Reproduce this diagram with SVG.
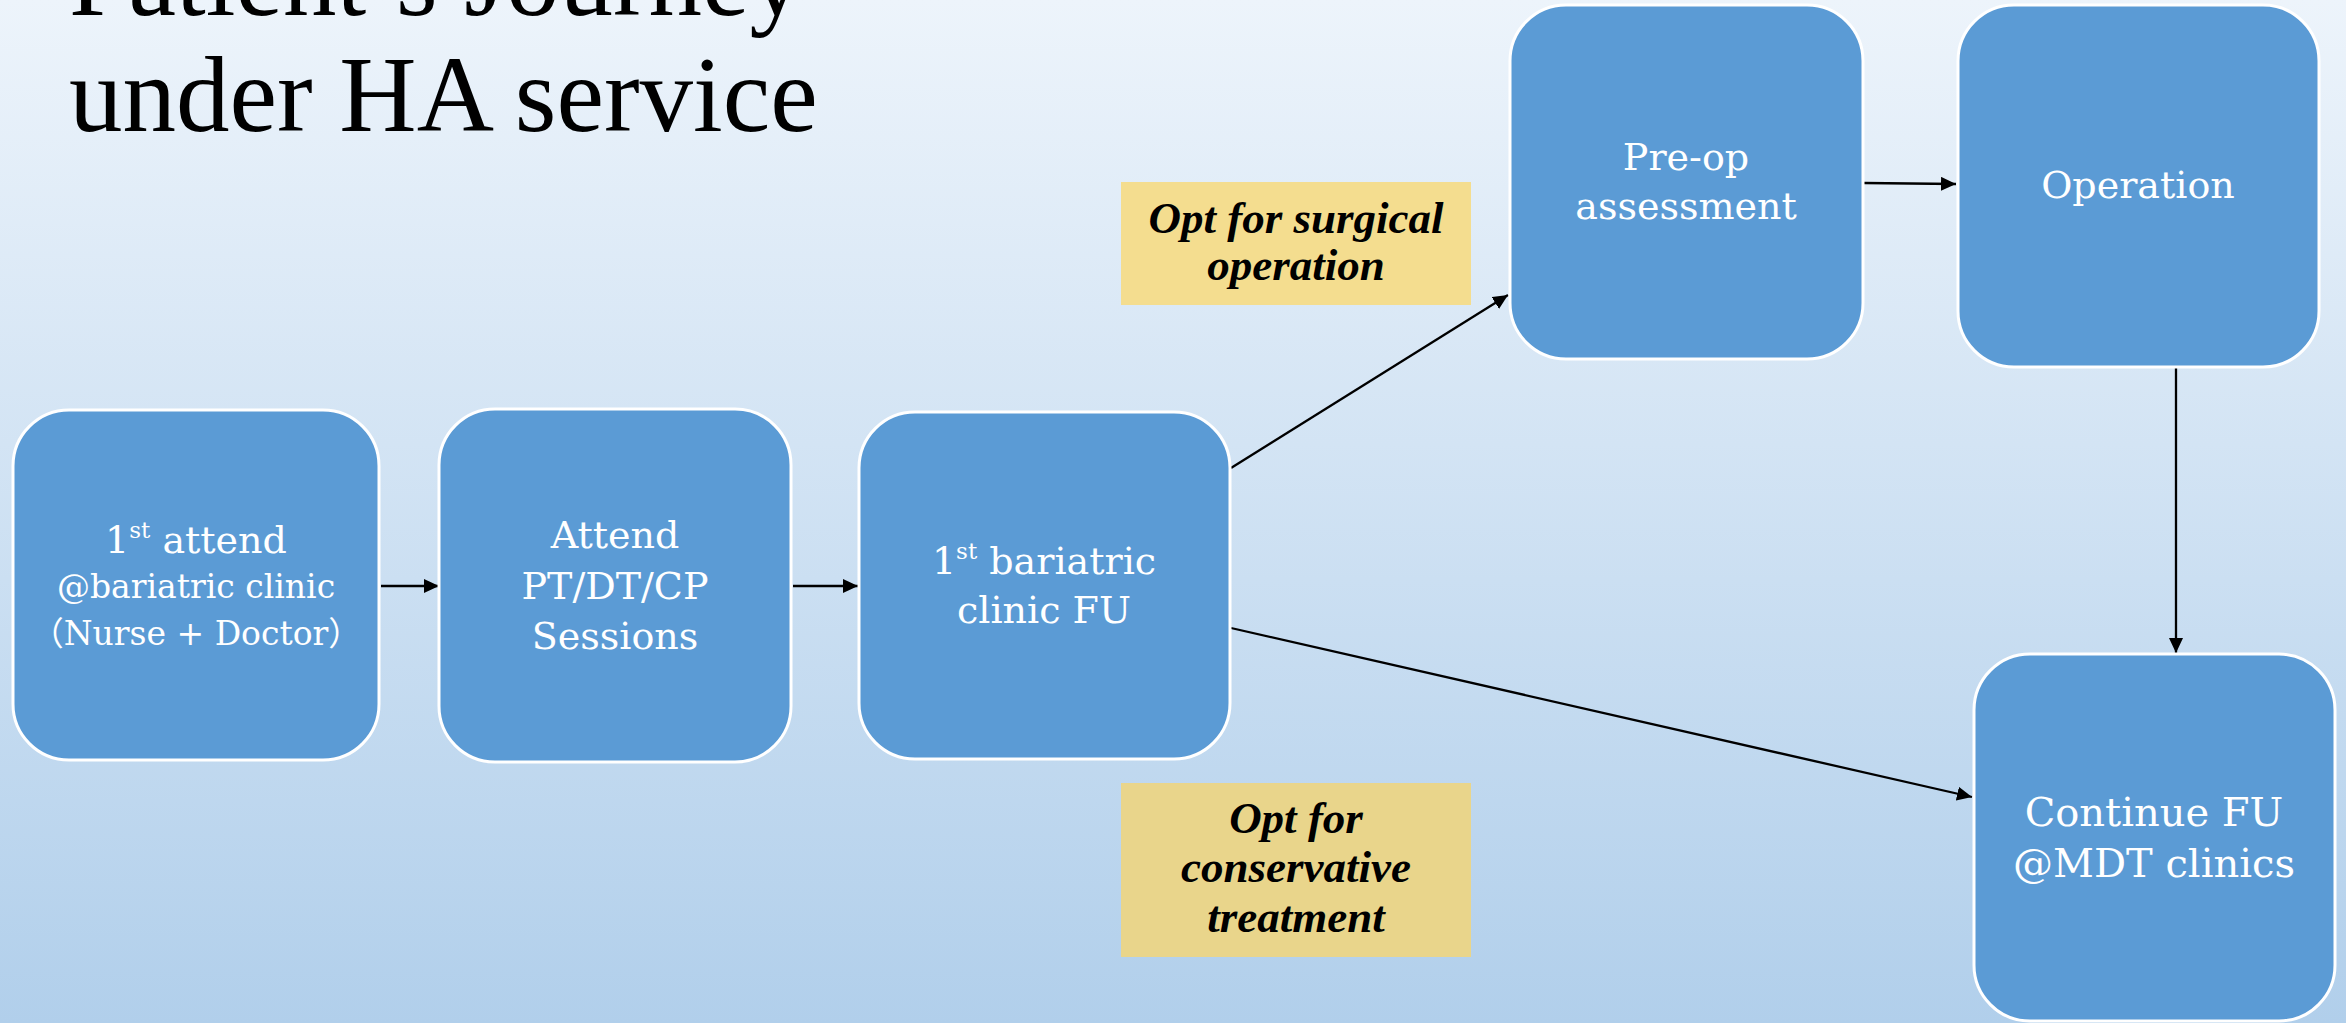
<svg xmlns="http://www.w3.org/2000/svg" width="2346" height="1023" viewBox="0 0 2346 1023">
<defs>
<linearGradient id="bg" x1="0" y1="0" x2="0" y2="1">
<stop offset="0" stop-color="#EDF4FB"/>
<stop offset="1" stop-color="#B1CFEB"/>
</linearGradient>
<marker id="ah" markerUnits="userSpaceOnUse" markerWidth="16" markerHeight="14" refX="15" refY="7" orient="auto">
<path d="M0,0 L15,7 L0,14 z" fill="#000"/>
</marker>
</defs>
<style>
.node{fill:#5B9BD5;stroke:#FFFFFF;stroke-width:3}
.nt{font-family:"DejaVu Serif","Noto Sans CJK SC",serif;fill:#FFFFFF;text-anchor:middle}
.lbl{font-family:"Liberation Serif",serif;font-weight:bold;font-style:italic;font-size:45px;fill:#000;text-anchor:middle}
.con{stroke:#000;stroke-width:2.3;fill:none;marker-end:url(#ah)}
.title{font-family:"Liberation Serif",serif;font-size:107px;fill:#000}
</style>
<rect x="0" y="0" width="2346" height="1023" fill="url(#bg)"/>
<g id="title">
<text class="title" x="69" y="15">Patient’s Journey</text>
<text class="title" x="69" y="131">under HA service</text>
</g>
<g id="connectors">
<line class="con" x1="381" y1="586" x2="439" y2="586"/>
<line class="con" x1="793" y1="586" x2="858" y2="586"/>
<line class="con" x1="1231" y1="468" x2="1508" y2="295"/>
<line class="con" x1="1231" y1="628" x2="1972" y2="797"/>
<line class="con" x1="1864" y1="183" x2="1956" y2="184"/>
<line class="con" x1="2176" y1="368" x2="2176" y2="653"/>
</g>
<g id="node-first-attend">
<rect class="node" x="13" y="410" width="366" height="350" rx="56" ry="56"/>
<text class="nt" x="196" y="553" font-size="38">1<tspan font-size="23" dy="-15">st</tspan><tspan dy="15"> attend</tspan></text>
<text class="nt" x="196" y="598" font-size="33">@bariatric clinic</text>
<text class="nt" x="196" y="645" font-size="33">（Nurse + Doctor）</text>
</g>
<g id="node-sessions">
<rect class="node" x="439" y="409" width="352" height="353" rx="56" ry="56"/>
<text class="nt" x="615" y="548" font-size="38">Attend</text>
<text class="nt" x="615" y="599" font-size="38">PT/DT/CP</text>
<text class="nt" x="615" y="649" font-size="38">Sessions</text>
</g>
<g id="node-bariatric-fu">
<rect class="node" x="859" y="412" width="371" height="347" rx="56" ry="56"/>
<text class="nt" x="1044" y="574" font-size="38">1<tspan font-size="23" dy="-15">st</tspan><tspan dy="15"> bariatric</tspan></text>
<text class="nt" x="1044" y="623" font-size="38">clinic FU</text>
</g>
<g id="node-preop">
<rect class="node" x="1510" y="5" width="353" height="354" rx="56" ry="56"/>
<text class="nt" x="1686" y="170" font-size="38">Pre-op</text>
<text class="nt" x="1686" y="219" font-size="38">assessment</text>
</g>
<g id="node-operation">
<rect class="node" x="1958" y="5" width="361" height="362" rx="56" ry="56"/>
<text class="nt" x="2138" y="198" font-size="38">Operation</text>
</g>
<g id="node-continue">
<rect class="node" x="1974" y="654" width="361" height="367" rx="56" ry="56"/>
<text class="nt" x="2154" y="826" font-size="40">Continue FU</text>
<text class="nt" x="2154" y="877" font-size="40">@MDT clinics</text>
</g>
<g id="label-surgical">
<rect x="1121" y="182" width="350" height="123" fill="#F4DD8F"/>
<text class="lbl" x="1296" y="233">Opt for surgical</text>
<text class="lbl" x="1296" y="280">operation</text>
</g>
<g id="label-conservative">
<rect x="1121" y="783" width="350" height="174" fill="#E9D58B"/>
<text class="lbl" x="1296" y="833">Opt for</text>
<text class="lbl" x="1296" y="882">conservative</text>
<text class="lbl" x="1296" y="932">treatment</text>
</g>
</svg>
